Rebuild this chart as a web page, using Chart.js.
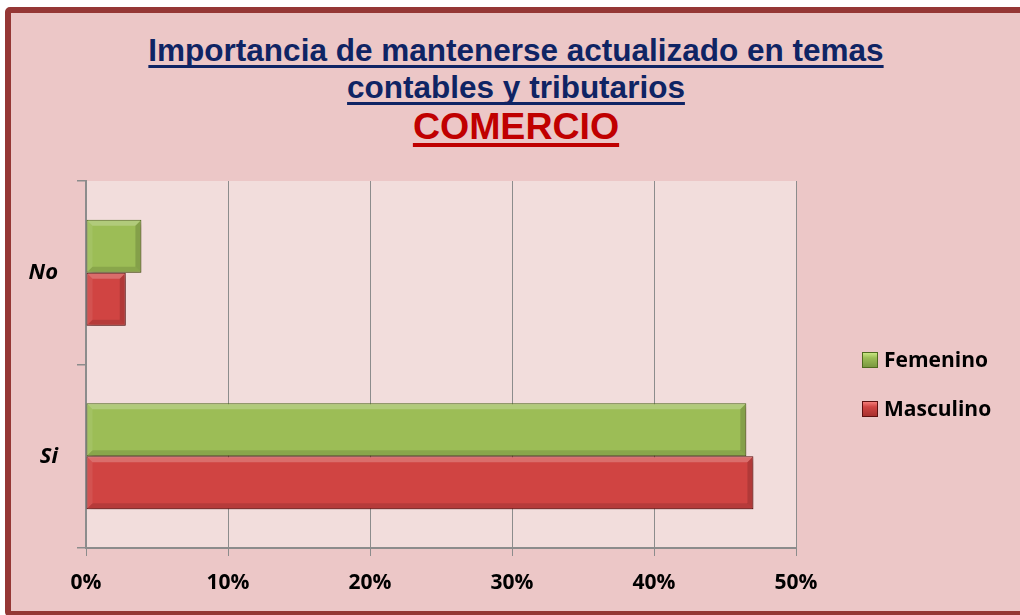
<!DOCTYPE html>
<html>
<head>
<meta charset="utf-8">
<script src="https://cdn.jsdelivr.net/npm/chart.js@4.4.0/dist/chart.umd.min.js"></script>
<style>
  html, body { margin:0; padding:0; background:#ffffff; }
  #wrap { position:relative; width:1020px; height:615px; overflow:hidden; }
  #frame { position:absolute; left:5px; top:7px; width:1040px; height:610px; box-sizing:border-box;
           border:6px solid #953735; border-radius:5px; background:#ECC7C7; }
  #c { position:absolute; left:0; top:0; }
  .t { position:absolute; left:0; width:1032px; text-align:center; font-family:"Liberation Sans", Arial, sans-serif;
       font-weight:bold; text-decoration:underline; text-decoration-skip-ink:none; white-space:nowrap; }
  #t1 { top:32px; font-size:31.5px; color:#0F2464; text-decoration-thickness:3px; text-underline-offset:4px; }
  #t2 { top:69px; font-size:31.5px; color:#0F2464; text-decoration-thickness:3px; text-underline-offset:4px; }
  #t3 { top:105px; font-size:37.5px; color:#C00000; text-decoration-thickness:4px; text-underline-offset:4px; }
  #legend { position:absolute; left:862px; top:346px; font-family:"Open Sans", sans-serif; font-weight:bold; font-size:21px; color:#000; }
  .li { position:relative; height:26px; margin-bottom:23px; white-space:nowrap; }
  .sw { position:absolute; left:0; top:6px; width:16px; height:16px; box-sizing:border-box; }
  .lt { position:absolute; left:22px; top:0; line-height:26px; }
</style>
</head>
<body>
<div id="wrap">
  <div id="frame"></div>
  <div class="t" id="t1">Importancia de mantenerse actualizado en temas</div>
  <div class="t" id="t2">contables y tributarios</div>
  <div class="t" id="t3">COMERCIO</div>
  <canvas id="c" width="1020" height="615"></canvas>
  <div id="legend"></div>
</div>
<script>
const categories = ["No", "Si"];
const seriesNames = ["Femenino", "Masculino"];
const femenino = [3.9, 46.5];
const masculino = [2.8, 47.0];
const xTicks = [0, 10, 20, 30, 40, 50];

const palette = {
  Femenino: { top: "#C8E682", mid: "#9CBD56", bot: "#7A9940", edge: "#4F6A1E" },
  Masculino: { top: "#F57C78", mid: "#D04442", bot: "#A8302E", edge: "#5E1010" }
};

function grad(ctx, el, p) {
  const c = ctx.chart.ctx;
  const area = ctx.chart.chartArea;
  if (!area || !el) return p.mid;
  const h = el.height || 50;
  const y0 = el.y - h / 2, y1 = el.y + h / 2;
  if (!isFinite(y0) || !isFinite(y1)) return p.mid;
  const g = c.createLinearGradient(0, y0, 0, y1);
  g.addColorStop(0, p.top);
  g.addColorStop(0.14, p.mid);
  g.addColorStop(0.7, p.mid);
  g.addColorStop(1, p.bot);
  return g;
}

const bgPlugin = {
  id: "plotBg",
  beforeDraw(chart) {
    const { ctx, chartArea: a } = chart;
    ctx.save();
    ctx.fillStyle = "#F2DDDC";
    ctx.fillRect(a.left, a.top, a.right - a.left, a.bottom - a.top);
    ctx.restore();
  },
  beforeDatasetsDraw(chart) {
    const ctx = chart.ctx;
    ctx.save();
    ctx.shadowColor = "rgba(60,0,0,0.35)";
    ctx.shadowBlur = 5;
    ctx.shadowOffsetX = 2;
    ctx.shadowOffsetY = 3;
  },
  afterDatasetsDraw(chart) {
    const ctx = chart.ctx;
    ctx.restore();
    chart.data.datasets.forEach((ds, di) => {
      const meta = chart.getDatasetMeta(di);
      meta.data.forEach(el => {
        const x0 = el.base, x1 = el.x, h = el.height;
        const y0 = el.y - h / 2, y1 = el.y + h / 2;
        const b = Math.min(6, (x1 - x0) / 4, h / 5);
        ctx.save();
        ctx.fillStyle = "rgba(255,255,255,0.22)";
        ctx.beginPath();
        ctx.moveTo(x0 + 1, y0 + 1); ctx.lineTo(x1 - 1, y0 + 1); ctx.lineTo(x1 - b, y0 + b); ctx.lineTo(x0 + b, y0 + b); ctx.closePath(); ctx.fill();
        ctx.fillStyle = "rgba(255,255,255,0.08)";
        ctx.beginPath();
        ctx.moveTo(x0 + 1, y0 + 1); ctx.lineTo(x0 + b, y0 + b); ctx.lineTo(x0 + b, y1 - b); ctx.lineTo(x0 + 1, y1 - 1); ctx.closePath(); ctx.fill();
        ctx.fillStyle = "rgba(0,0,0,0.12)";
        ctx.beginPath();
        ctx.moveTo(x0 + 1, y1 - 1); ctx.lineTo(x1 - 1, y1 - 1); ctx.lineTo(x1 - b, y1 - b); ctx.lineTo(x0 + b, y1 - b); ctx.closePath(); ctx.fill();
        ctx.fillStyle = "rgba(0,0,0,0.15)";
        ctx.beginPath();
        ctx.moveTo(x1 - 1, y0 + 1); ctx.lineTo(x1 - b, y0 + b); ctx.lineTo(x1 - b, y1 - b); ctx.lineTo(x1 - 1, y1 - 1); ctx.closePath(); ctx.fill();
        ctx.restore();
      });
    });
  }
};

const datasets = [femenino, masculino].map((vals, i) => {
  const p = palette[seriesNames[i]];
  return {
    label: seriesNames[i],
    data: vals,
    backgroundColor: (ctx) => grad(ctx, ctx.element, p),
    borderColor: p.edge,
    borderWidth: 1,
    borderSkipped: false,
    categoryPercentage: 0.578,
    barPercentage: 1.0
  };
});

new Chart(document.getElementById("c"), {
  type: "bar",
  data: { labels: categories, datasets },
  plugins: [bgPlugin],
  options: {
    indexAxis: "y",
    responsive: false,
    animation: false,
    layout: { padding: { top: 181, right: 224, bottom: 0, left: 0 } },
    plugins: { legend: { display: false }, title: { display: false }, tooltip: { enabled: false } },
    scales: {
      x: {
        min: xTicks[0], max: xTicks[xTicks.length - 1],
        afterBuildTicks: (s) => { s.ticks = xTicks.map(v => ({ value: v })); },
        afterFit: (s) => { s.height = 67; },
        grid: { color: "#8C8C8C", lineWidth: 1, tickLength: 8, drawOnChartArea: true },
        border: { display: true, color: "#8C8C8C", width: 2 },
        ticks: { callback: (v) => v + "%", color: "#000", padding: 14,
                 font: { family: "Open Sans", weight: "bold", size: 21 } }
      },
      y: {
        afterFit: (s) => { s.width = 86; },
        grid: { display: true, drawOnChartArea: false, offset: true, tickLength: 9, color: "#8C8C8C", lineWidth: 1.5 },
        border: { display: true, color: "#8C8C8C", width: 2 },
        ticks: { color: "#000", padding: 19,
                 font: { family: "Open Sans", weight: "bold", style: "italic", size: 22 } }
      }
    }
  }
});

const lg = document.getElementById("legend");
seriesNames.forEach(name => {
  const p = palette[name];
  const li = document.createElement("div"); li.className = "li";
  const sw = document.createElement("div"); sw.className = "sw";
  sw.style.background = "linear-gradient(to bottom," + p.top + " 0%," + p.mid + " 35%," + p.bot + " 100%)";
  sw.style.border = "1px solid " + p.edge;
  const t = document.createElement("div"); t.className = "lt"; t.textContent = name;
  li.appendChild(sw); li.appendChild(t); lg.appendChild(li);
});
</script>
</body>
</html>
